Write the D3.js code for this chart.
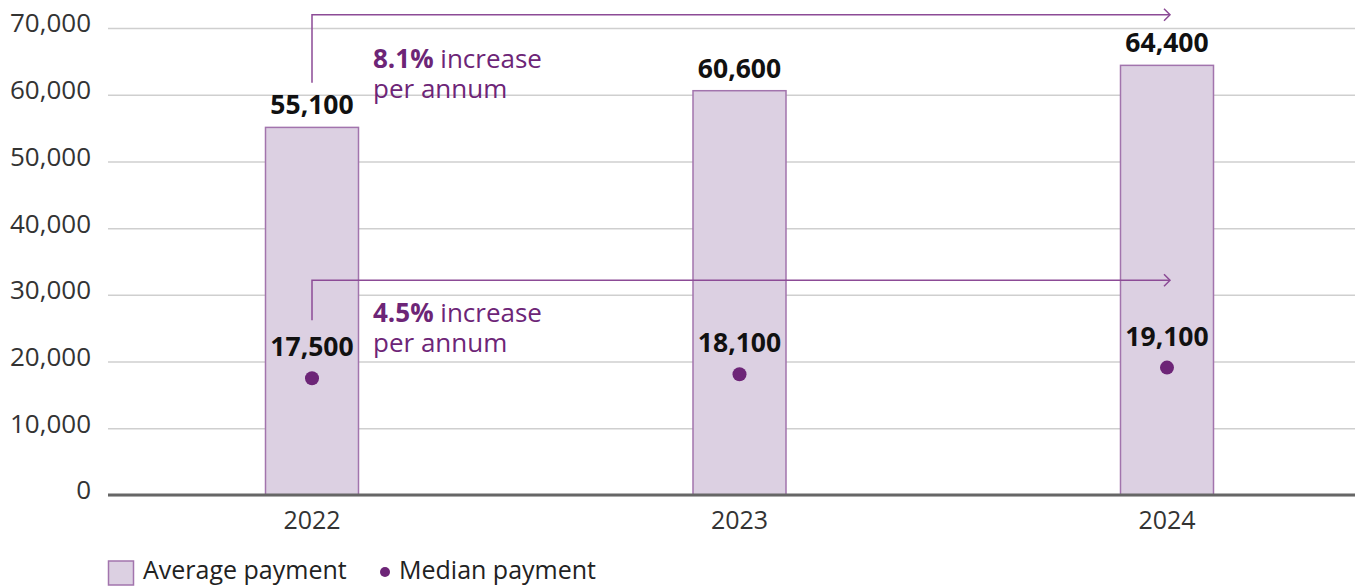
<!DOCTYPE html>
<html>
<head>
<meta charset="utf-8">
<script src="https://cdn.jsdelivr.net/npm/d3@7"></script>
<style>
  html, body { margin: 0; padding: 0; background: #fff; }
  svg { display: block; font-family: "Open Sans", sans-serif; }
</style>
</head>
<body>
<svg id="chart" width="1355" height="587"></svg>
<script>
// Payment values by year
const years = ["2022", "2023", "2024"];
const averagePayment = [55100, 60600, 64400];
const medianPayment = [17500, 18100, 19100];
const yTicks = [0, 10000, 20000, 30000, 40000, 50000, 60000, 70000];

// Growth callouts: rate text and the level the arrow runs along
const growthRates = ["8.1%", "4.5%"];
const growthArrowLevel = [72000, 32200];
const growthArrowStart = [61800, 26200];
const growthTextLevel = [64000, 26000];

const W = 1355, H = 587;
const plot = { left: 108, right: 1355, top: 28, bottom: 495 };

const svg = d3.select("#chart");
const fmt = d3.format(",");

const x = d3.scalePoint().domain(years).range([312, 1167]);
const y = d3.scaleLinear().domain([0, 70000]).range([plot.bottom, plot.top]);
const barW = 93;

const purpleDark = "#6d2577";
const purpleLine = "#8c4b96";
const barFill = "#dcd0e2";
const barStroke = "#a274ad";

// Gridlines and y tick labels
const yAxis = d3.axisLeft(y).tickValues(yTicks).tickFormat(fmt)
  .tickSize(-(plot.right - plot.left)).tickPadding(17);
const gy = svg.append("g").attr("transform", `translate(${plot.left},0)`).call(yAxis);
gy.select(".domain").remove();
gy.selectAll(".tick line").attr("stroke", "#cfcfcf").attr("stroke-width", 1.5);
gy.selectAll(".tick text")
  .attr("font-size", 26).attr("fill", "#333").attr("dy", "0.15em")
  .attr("font-family", "Open Sans, sans-serif");

// Bars: average payment
svg.append("g").selectAll("rect").data(years).join("rect")
  .attr("x", d => x(d) - barW / 2)
  .attr("y", (d, i) => y(averagePayment[i]))
  .attr("width", barW)
  .attr("height", (d, i) => y(0) - y(averagePayment[i]))
  .attr("fill", barFill)
  .attr("stroke", barStroke)
  .attr("stroke-width", 1.5);

// Baseline
svg.append("line")
  .attr("x1", plot.left).attr("x2", plot.right)
  .attr("y1", y(0)).attr("y2", y(0))
  .attr("stroke", "#666").attr("stroke-width", 3);

// Bar value labels
svg.append("g").selectAll("text").data(years).join("text")
  .attr("x", d => x(d))
  .attr("y", (d, i) => y(averagePayment[i]) - 13)
  .attr("text-anchor", "middle")
  .attr("font-size", 26.5).attr("font-weight", 700).attr("fill", "#111")
  .text((d, i) => fmt(averagePayment[i]));

// Median points
svg.append("g").selectAll("circle").data(years).join("circle")
  .attr("cx", d => x(d))
  .attr("cy", (d, i) => y(medianPayment[i]))
  .attr("r", 7)
  .attr("fill", purpleDark);

svg.append("g").selectAll("text").data(years).join("text")
  .attr("x", d => x(d))
  .attr("y", (d, i) => y(medianPayment[i]) - 22)
  .attr("text-anchor", "middle")
  .attr("font-size", 26.5).attr("font-weight", 700).attr("fill", "#111")
  .text((d, i) => fmt(medianPayment[i]));

// X axis labels
svg.append("g").selectAll("text").data(years).join("text")
  .attr("x", d => x(d))
  .attr("y", 529)
  .attr("text-anchor", "middle")
  .attr("font-size", 25).attr("fill", "#333")
  .text(d => d);

// Growth arrows and callouts
const xStart = x(years[0]);
const xEnd = x(years[years.length - 1]) + 3;
growthRates.forEach((rate, i) => {
  const ly = y(growthArrowLevel[i]);
  svg.append("path")
    .attr("d", `M${xStart},${y(growthArrowStart[i])}V${ly}H${xEnd}`)
    .attr("fill", "none").attr("stroke", purpleLine).attr("stroke-width", 1.5);
  svg.append("path")
    .attr("d", `M${xEnd - 6},${ly - 6}L${xEnd},${ly}L${xEnd - 6},${ly + 6}`)
    .attr("fill", "none").attr("stroke", purpleLine).attr("stroke-width", 1.5);
  const t = svg.append("text")
    .attr("x", 373).attr("y", y(growthTextLevel[i]))
    .attr("font-size", 26).attr("fill", purpleDark);
  t.append("tspan").attr("font-weight", 700).text(rate);
  t.append("tspan").text(" increase");
  t.append("tspan").attr("x", 373).attr("dy", 30).text("per annum");
});

// Legend
const lg = svg.append("g");
lg.append("rect").attr("x", 108.5).attr("y", 561).attr("width", 25).attr("height", 24)
  .attr("fill", barFill).attr("stroke", barStroke).attr("stroke-width", 1.5);
lg.append("text").attr("x", 143).attr("y", 579).attr("font-size", 25).attr("fill", "#222")
  .text("Average payment");
lg.append("circle").attr("cx", 385).attr("cy", 572).attr("r", 5).attr("fill", purpleDark);
lg.append("text").attr("x", 399).attr("y", 579).attr("font-size", 25).attr("fill", "#222")
  .text("Median payment");
</script>
</body>
</html>
